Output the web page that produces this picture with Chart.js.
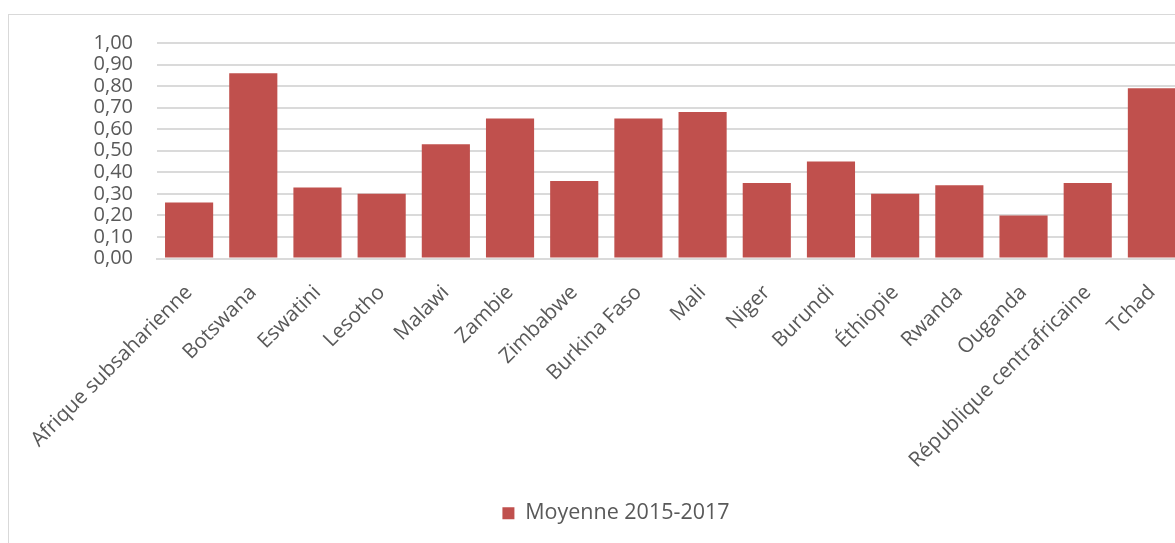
<!DOCTYPE html>
<html>
<head>
<meta charset="utf-8">
<script src="https://cdn.jsdelivr.net/npm/chart.js@4"></script>
<style>
	html, body { margin: 0; padding: 0; background: #fff; overflow: hidden; width: 1175px; height: 543px; }
	.chart-box {
		position: absolute; left: 8px; top: 14px;
		width: 1214px; height: 558px;
		border: 1px solid #d9d9d9;
	}
</style>
</head>
<body>
<div class="chart-box"><canvas id="chart"></canvas></div>
<script>
// values
const countries = [
	'Afrique subsaharienne', 'Botswana', 'Eswatini', 'Lesotho', 'Malawi', 'Zambie',
	'Zimbabwe', 'Burkina Faso', 'Mali', 'Niger', 'Burundi', 'Éthiopie', 'Rwanda',
	'Ouganda', 'République centrafricaine', 'Tchad'
];
const moyenne = [0.26, 0.86, 0.33, 0.30, 0.53, 0.65, 0.36, 0.65, 0.68, 0.35, 0.45, 0.30, 0.34, 0.20, 0.35, 0.79];
const seriesLabel = 'Moyenne 2015-2017';

const textColor = '#595959';
const gridColor = '#dadada';
const font = { family: '"Open Sans", sans-serif', size: 20 };

new Chart(document.getElementById('chart'), {
	type: 'bar',
	data: {
		labels: countries,
		datasets: [{
			label: seriesLabel,
			data: moyenne,
			backgroundColor: '#c0504d',
			categoryPercentage: 1,
			barPercentage: 0.75
		}]
	},
	options: {
		responsive: true,
		maintainAspectRatio: false,
		animation: false,
		layout: { padding: { left: 0, top: 28, right: 0, bottom: 39 } },
		plugins: {
			tooltip: { enabled: false },
			legend: {
				position: 'bottom',
				labels: { color: textColor, font: { family: font.family, size: 21.5 }, boxWidth: 12, boxHeight: 12, padding: 10 }
			}
		},
		scales: {
			x: {
				grid: { display: false },
				border: { color: gridColor, width: 2 },
				ticks: { color: textColor, font: { family: font.family, size: 20.6 }, minRotation: 45, maxRotation: 45, padding: 14, autoSkip: false },
				afterFit: (scale) => {
					scale.height = 234;
					// right margin of the plot inside the frame, legend stays centred on the frame
					scale.paddingLeft = 0;
					scale.paddingRight = 39;
				}
			},
			y: {
				min: 0,
				max: 1,
				grid: { color: gridColor, lineWidth: 2, drawTicks: false },
				border: { display: false },
				ticks: {
					stepSize: 0.1,
					autoSkip: false,
					color: textColor,
					font: font,
					padding: 24,
					callback: (v) => v.toFixed(2).replace('.', ',')
				},
				afterFit: (scale) => {
					scale.width = 148;
					scale.paddingTop = 0;
					scale.paddingBottom = 0;
				}
			}
		}
	}
});
</script>
</body>
</html>
